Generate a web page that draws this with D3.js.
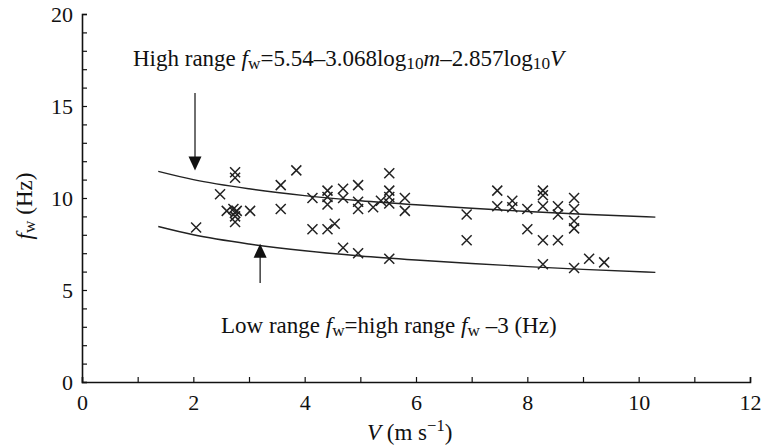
<!DOCTYPE html>
<meta charset="utf-8">
<script src="https://d3js.org/d3.v7.min.js"></script>
<style>
  body { margin: 0; background: #fff; }
  text { font-family: "Liberation Serif", "Times New Roman", serif; fill: #111; }
</style>
<body>
<div id="chart"></div>
</body>
<script>
    // measured points (wind speed V, frequency fw)
    const speed = [2.05, 2.48, 2.75, 2.75, 2.6, 2.72, 2.78, 2.75, 2.75, 2.75, 3.02, 3.57, 3.57, 3.85,
        4.14, 4.14, 4.41, 4.41, 4.41, 4.41, 4.54, 4.69, 4.69, 4.69, 4.96, 4.96, 4.96, 4.96, 5.23, 5.37,
        5.52, 5.52, 5.52, 5.52, 5.52, 5.8, 5.8, 6.91, 6.91, 7.46, 7.46, 7.73, 7.73, 8.0, 8.0,
        8.28, 8.28, 8.28, 8.28, 8.28, 8.55, 8.55, 8.55, 8.84, 8.84, 8.84, 8.84, 8.84, 9.11, 9.38];
    const freq = [8.4, 10.2, 11.4, 11.1, 9.3, 9.4, 9.3, 9.2, 9.0, 8.7, 9.3, 10.7, 9.4, 11.5,
        10.0, 8.3, 10.4, 10.05, 9.65, 8.3, 8.6, 10.5, 10.0, 7.3, 10.7, 9.8, 9.4, 7.0, 9.5, 9.85,
        11.35, 10.4, 10.05, 9.7, 6.7, 10.0, 9.3, 9.1, 7.7, 10.4, 9.55, 9.85, 9.5, 9.4, 8.3,
        10.4, 10.15, 9.55, 7.7, 6.4, 9.55, 9.1, 7.7, 10.0, 9.4, 8.75, 8.35, 6.2, 6.7, 6.5];

    // fitted range curves
    const curveV = [1.37, 2, 3, 4, 5, 6, 7, 8, 9, 10.3];
    const highF = [11.45, 11.0, 10.5, 10.13, 9.85, 9.63, 9.44, 9.27, 9.12, 8.96];
    const lowF = [8.45, 8.0, 7.5, 7.13, 6.85, 6.63, 6.44, 6.27, 6.12, 5.96];

    const xTicks = d3.range(0, 13);
    const yTicks = d3.range(0, 21);

    const width = 762, height = 448;
    const serif = "Liberation Serif, Times New Roman, serif";

    const svg = d3.select("#chart")
        .append("svg")
        .attr("width", width)
        .attr("height", height);

    const x = d3.scaleLinear().domain([0, 12]).range([82, 750]);
    const y = d3.scaleLinear().domain([0, 20]).range([382, 14]);

    // axes, ticks pointing inward
    const xAxis = svg.append("g")
        .attr("transform", "translate(0," + y(0) + ")")
        .call(d3.axisBottom(x).tickValues(xTicks).tickSize(-5).tickPadding(12)
            .tickFormat(d => d % 2 === 0 ? d : ""));
    const yAxis = svg.append("g")
        .attr("transform", "translate(" + x(0) + ",0)")
        .call(d3.axisLeft(y).tickValues(yTicks).tickSize(-5).tickPadding(9)
            .tickFormat(d => d % 5 === 0 ? d : ""));

    [xAxis, yAxis].forEach(function (g) {
        g.attr("font-family", serif).attr("font-size", 22);
        g.select(".domain").attr("stroke", "#111").attr("stroke-width", 1.6);
        g.selectAll(".tick line").attr("stroke", "#111").attr("stroke-width", 1.2);
        g.selectAll(".tick text").attr("fill", "#111");
    });

    // curves
    const line = d3.line()
        .x((d, i) => x(curveV[i]))
        .y(d => y(d))
        .curve(d3.curveMonotoneX);

    [highF, lowF].forEach(function (series) {
        svg.append("path")
            .datum(series)
            .attr("d", line)
            .attr("fill", "none")
            .attr("stroke", "#222")
            .attr("stroke-width", 1.4);
    });

    // data markers
    svg.selectAll(".pt")
        .data(speed)
        .enter()
        .append("path")
        .attr("class", "pt")
        .attr("transform", (d, i) => "translate(" + x(d) + "," + y(freq[i]) + ")")
        .attr("d", "M-5,-5L5,5M-5,5L5,-5")
        .attr("stroke", "#222")
        .attr("stroke-width", 1.5)
        .attr("fill", "none");

    // arrows
    function arrow(v, from, to) {
        const px = x(v), y0 = y(from), y1 = y(to);
        const dir = y1 > y0 ? 1 : -1;
        svg.append("line")
            .attr("x1", px).attr("x2", px)
            .attr("y1", y0).attr("y2", y1 - dir * 12)
            .attr("stroke", "#222").attr("stroke-width", 1.3);
        svg.append("path")
            .attr("d", "M" + px + "," + y1 + "L" + (px - 6.5) + "," + (y1 - dir * 14) +
                "L" + (px + 6.5) + "," + (y1 - dir * 14) + "Z")
            .attr("fill", "#111");
    }
    arrow(2.03, 15.7, 11.5);
    arrow(3.2, 5.38, 7.52);

    // annotation text with sub/superscripts
    function addText(px, py, parts, size) {
        const t = svg.append("text").attr("x", px).attr("y", py).style("font-size", size + "px");
        let shift = 0;
        parts.forEach(function (p) {
            const s = t.append("tspan").text(p.t);
            let target = 0;
            if (p.sub) { target = 3; s.style("font-size", (size * 0.75) + "px"); }
            if (p.sup) { target = -9; s.style("font-size", (size * 0.72) + "px"); }
            if (p.it) s.style("font-style", "italic");
            s.attr("dy", target - shift);
            shift = target;
        });
        return t;
    }

    addText(133, 66, [
        {t: "High range "}, {t: "f", it: true}, {t: "w", sub: true},
        {t: "=5.54\u20133.068log"}, {t: "10", sub: true}, {t: "m", it: true},
        {t: "\u20132.857log"}, {t: "10", sub: true}, {t: "V", it: true}
    ], 23);

    addText(221, 333, [
        {t: "Low range "}, {t: "f", it: true}, {t: "w", sub: true},
        {t: "=high range "}, {t: "f", it: true}, {t: "w", sub: true},
        {t: " \u20133 (Hz)"}
    ], 23);

    addText(367, 440, [
        {t: "V", it: true}, {t: " (m s"}, {t: "\u22121", sup: true}, {t: ")"}
    ], 23);

    const yl = addText(0, 0, [
        {t: "f", it: true}, {t: "w", sub: true}, {t: " (Hz)"}
    ], 23);
    yl.attr("text-anchor", "middle").attr("transform", "translate(32,206) rotate(-90)");
</script>
